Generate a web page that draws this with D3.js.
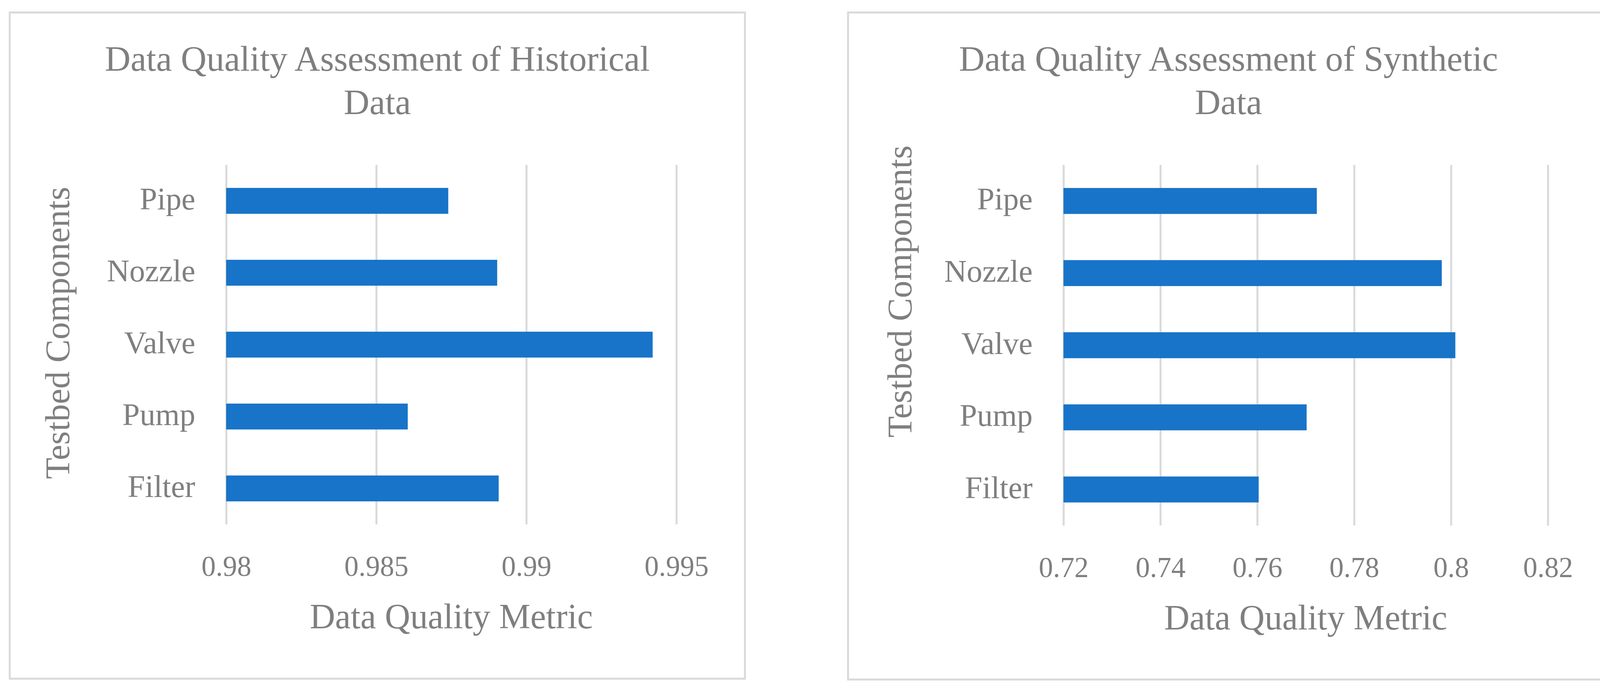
<!DOCTYPE html>
<html>
<head>
<meta charset="utf-8">
<script src="https://cdn.jsdelivr.net/npm/d3@7"></script>
<style>
  html, body { margin: 0; padding: 0; background: #fff; overflow: hidden; }
  svg { display: block; }
  text { font-family: "Liberation Serif", "DejaVu Serif", serif; fill: #7f7f7f; }
</style>
</head>
<body>
<div id="chart"></div>
<script>
// categories top to bottom, as shown
var components = ['Pipe', 'Nozzle', 'Valve', 'Pump', 'Filter'];

var historicalValues = [0.98740, 0.98903, 0.99421, 0.98605, 0.98908];
var syntheticValues = [0.7723, 0.7981, 0.8009, 0.7702, 0.7603];

var historicalTicks = [0.98, 0.985, 0.99, 0.995];
var syntheticTicks = [0.72, 0.74, 0.76, 0.78, 0.8, 0.82];

var historicalTitle = ['Data Quality Assessment of Historical', 'Data'];
var syntheticTitle = ['Data Quality Assessment of Synthetic', 'Data'];
var xAxisTitle = 'Data Quality Metric';
var yAxisTitle = 'Testbed Components';

var W = 4153, H = 1771;
var barColor = '#1874c8';
var gridColor = '#d9d9d9';

var svg = d3.select('#chart').append('svg').attr('width', W).attr('height', H);

function drawPanel(opt) {
  var g = svg.append('g');

  // chart frame
  g.append('rect')
    .attr('x', opt.frame[0]).attr('y', opt.frame[1])
    .attr('width', opt.frame[2]).attr('height', opt.frame[3])
    .attr('fill', '#fff').attr('stroke', gridColor).attr('stroke-width', 5);

  var cx = opt.frame[0] + opt.frame[2] / 2;
  g.selectAll('.title').data(opt.title).enter().append('text')
    .attr('x', cx)
    .attr('y', (d, i) => 181 + i * 111)
    .attr('text-anchor', 'middle')
    .style('font-size', '91px')
    .text(d => d);

  var x = d3.scaleLinear()
    .domain([opt.ticks[0], opt.ticks[opt.ticks.length - 1]])
    .range([opt.plot.left, opt.plot.right]);
  var y = d3.scaleBand()
    .domain(components)
    .range([opt.plot.top, opt.plot.bottom])
    .paddingInner(0.64).paddingOuter(0.32);
  var ph = opt.plot.bottom - opt.plot.top;

  // vertical gridlines
  var grid = g.append('g')
    .attr('transform', 'translate(0,' + opt.plot.bottom + ')')
    .call(d3.axisBottom(x).tickValues(opt.ticks).tickSize(-ph).tickFormat(''));
  grid.select('.domain').remove();
  grid.selectAll('line').attr('stroke', gridColor).attr('stroke-width', 5);

  // bars
  g.selectAll('.bar').data(opt.values).enter().append('rect')
    .attr('x', x(opt.ticks[0]))
    .attr('y', (d, i) => y(components[i]))
    .attr('width', d => x(d) - x(opt.ticks[0]))
    .attr('height', y.bandwidth())
    .attr('fill', barColor);

  // x tick labels
  var xa = g.append('g')
    .attr('transform', 'translate(0,' + opt.plot.bottom + ')')
    .call(d3.axisBottom(x).tickValues(opt.ticks).tickSize(0).tickFormat(d => String(d)));
  xa.select('.domain').remove();
  xa.selectAll('text')
    .attr('y', 132).attr('dy', null)
    .attr('fill', null)
    .style('font-size', '73px');

  // category labels
  var ya = g.append('g')
    .attr('transform', 'translate(' + opt.plot.left + ',0)')
    .call(d3.axisLeft(y).tickSize(0));
  ya.select('.domain').remove();
  ya.selectAll('text')
    .attr('x', -79).attr('dy', null).attr('y', 22)
    .attr('fill', null)
    .style('font-size', '80px');

  // axis titles
  g.append('text')
    .attr('x', (opt.plot.left + opt.plot.right) / 2)
    .attr('y', opt.plot.bottom + 266)
    .attr('text-anchor', 'middle')
    .style('font-size', '90px')
    .text(xAxisTitle);

  g.append('text')
    .attr('transform', 'translate(' + opt.yTitle[0] + ',' + opt.yTitle[1] + ') rotate(-90)')
    .attr('text-anchor', 'middle')
    .style('font-size', '89px')
    .text(yAxisTitle);
}

drawPanel({
  frame: [25, 32, 1882, 1705],
  plot: {left: 579, right: 1731.5, top: 422, bottom: 1342},
  yTitle: [177, 852],
  title: historicalTitle,
  values: historicalValues,
  ticks: historicalTicks
});

drawPanel({
  frame: [2171, 32, 1948, 1707],
  plot: {left: 2722.5, right: 3962.5, top: 422, bottom: 1345},
  yTitle: [2333, 746],
  title: syntheticTitle,
  values: syntheticValues,
  ticks: syntheticTicks
});
</script>
</body>
</html>
